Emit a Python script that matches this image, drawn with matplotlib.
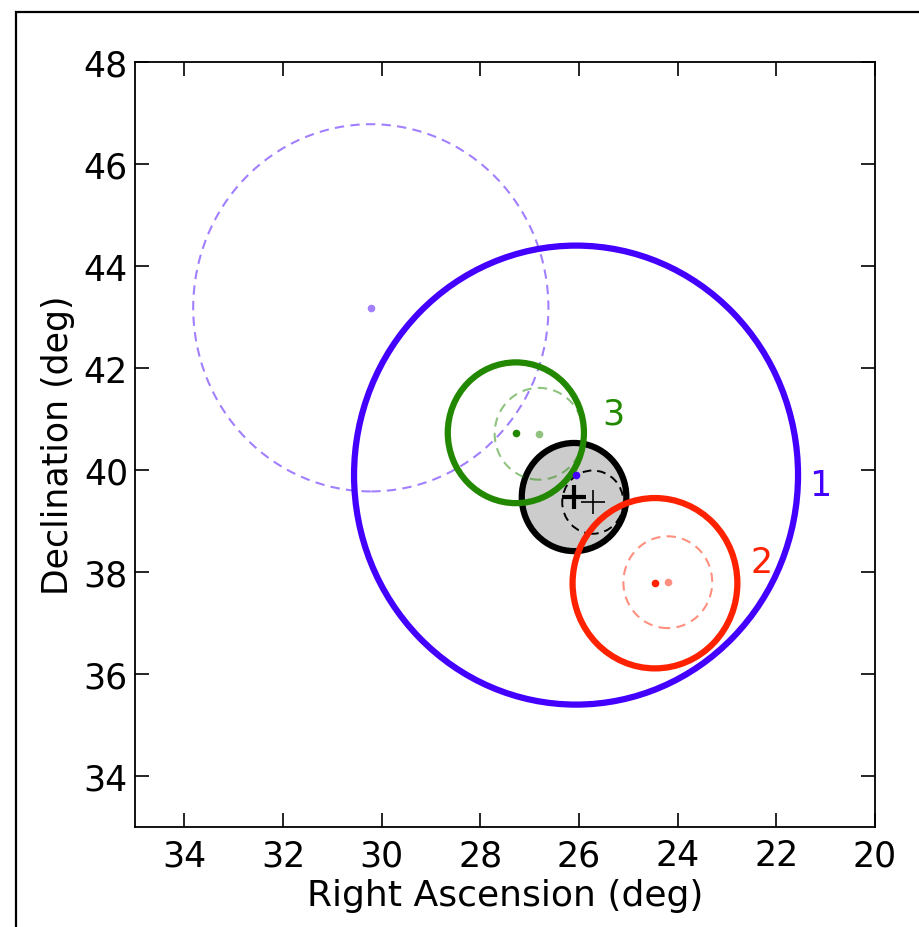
import matplotlib
matplotlib.use("Agg")
import matplotlib.pyplot as plt
from matplotlib.patches import Circle, Rectangle

# Data (RA, Dec, radius in deg)
solid_ra = [26.06, 24.46, 27.28]
solid_dec = [39.90, 37.78, 40.73]
solid_r = [4.50, 1.67, 1.38]
labels = ["1", "2", "3"]
label_ra = [21.1, 22.3, 25.3]
label_dec = [39.7, 38.2, 41.1]
colors = ["#4400ff", "#ff2200", "#228800"]

dash_ra = [30.22, 24.20, 26.81]
dash_dec = [43.18, 37.80, 40.71]
dash_r = [3.60, 0.90, 0.90]

black_ra, black_dec, black_r = 26.10, 39.47, 1.06
bdash_ra, bdash_dec, bdash_r = 25.72, 39.37, 0.62

xticks = [34, 32, 30, 28, 26, 24, 22, 20]
yticks = [34, 36, 38, 40, 42, 44, 46, 48]

plt.rcParams['font.family'] = ['DejaVu Sans']
fig = plt.figure(figsize=(9.19, 9.28), dpi=100)
ax = fig.add_axes([135/919, 1-828/928, 740/919, 765/928])

ds = (0, (4.5, 3.0))
# gray filled black circle
ax.add_patch(Circle((black_ra, black_dec), black_r, facecolor="#cccccc",
                    edgecolor="black", lw=4.5, zorder=2))
ax.add_patch(Circle((bdash_ra, bdash_dec), bdash_r, facecolor="none",
                    edgecolor="black", lw=1.4, linestyle=ds, zorder=3))

for i in range(3):
    ax.add_patch(Circle((dash_ra[i], dash_dec[i]), dash_r[i], facecolor="none",
                        edgecolor=colors[i], alpha=0.5, lw=1.5,
                        linestyle=ds, zorder=3))
    ax.plot([dash_ra[i]], [dash_dec[i]], 'o', color=colors[i], alpha=0.5,
            ms=5.5, mec='none', zorder=4)
    ax.add_patch(Circle((solid_ra[i], solid_dec[i]), solid_r[i], facecolor="none",
                        edgecolor=colors[i], lw=4.5, zorder=4))
    ax.plot([solid_ra[i]], [solid_dec[i]], 'o', color=colors[i],
            ms=5.5, mec='none', zorder=5)
    ax.text(label_ra[i], label_dec[i], labels[i], color=colors[i], fontsize=25,
            ha='center', va='center')

ax.plot([black_ra], [black_dec], '+', color='black', ms=17, mew=3.0, zorder=6)
ax.plot([bdash_ra], [bdash_dec], '+', color='black', ms=17, mew=1.2, zorder=6)

ax.set_xlim(35, 20)
ax.set_ylim(33, 48)
ax.set_xticks(xticks)
ax.set_yticks(yticks)
ax.tick_params(direction='in', length=10, width=1.2, labelsize=25,
               top=True, right=True)
ax.tick_params(axis='x', pad=8)
ax.tick_params(axis='y', pad=5)
for s in ax.spines.values():
    s.set_linewidth(1.3)
ax.set_xlabel("Right Ascension (deg)", fontsize=26, labelpad=4)
ax.set_ylabel("Declination (deg)", fontsize=25, labelpad=6)

fig.patches.append(Rectangle((16/919, -0.05), 1.1, 1-13/928+0.05,
                             transform=fig.transFigure, fill=False,
                             edgecolor='black', lw=1.6))

fig.savefig("out.png", dpi=100)
